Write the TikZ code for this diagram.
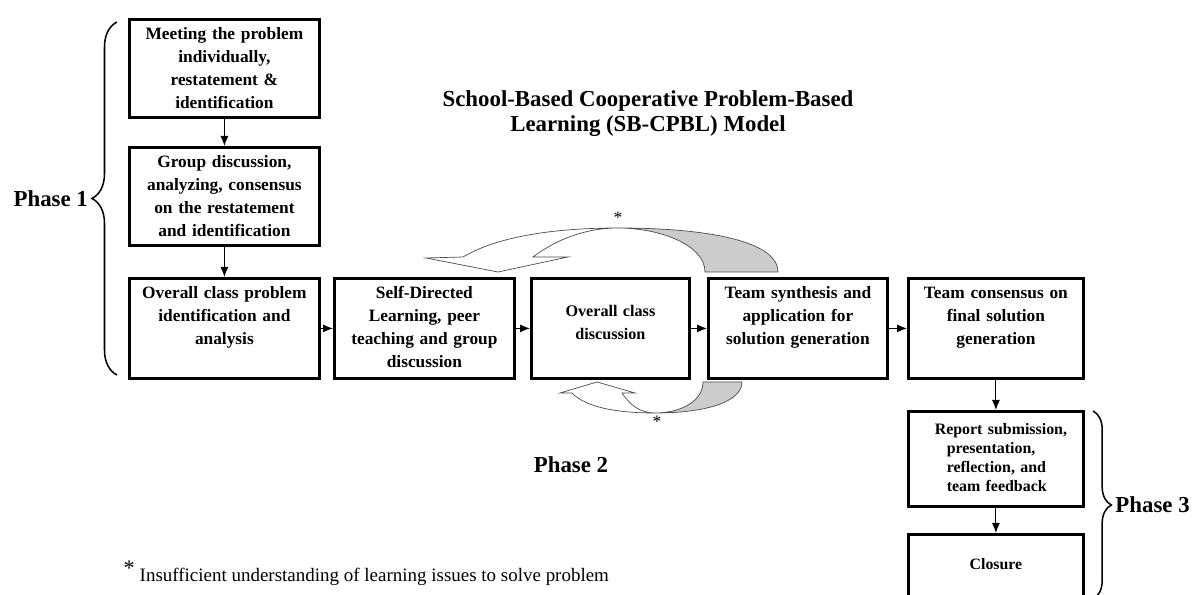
\documentclass[tikz,border=0pt]{standalone}
\usepackage{fontspec}
\setmainfont{Liberation Serif}
\usetikzlibrary{arrows.meta,positioning,decorations.pathreplacing}

\begin{document}
\begin{tikzpicture}[
    stage/.style={rectangle, draw, line width=2.4pt, anchor=north west, inner xsep=0.1cm, inner ysep=0pt, align=center, text height=0.6cm, font=\fontsize{14.8}{19.6}\selectfont\bfseries},
    smallstage/.style={stage, font=\fontsize{13.8}{19.6}\selectfont\bfseries},
    flow/.style={-{Latex[length=0.3cm,width=0.24cm]}, line width=0.85pt},
    ribbon/.style={draw=black!70, line width=0.6pt},
    phase/.style={font=\fontsize{19.5}{22}\selectfont\bfseries},
    pbrace/.style={decorate, line width=1.3pt},
    star/.style={font=\fontsize{15}{15}\selectfont, inner sep=0pt}
]

% Page frame
\useasboundingbox (0,0) rectangle (35.91,17.85);

% Title
\node[align=center, font=\fontsize{19.5}{21.5}\selectfont\bfseries] (title) at (19.44,14.45) {School-Based Cooperative Problem-Based\\Learning (SB-CPBL) Model};

% Phase 1
\node[stage, text width=5.5cm, text depth=2.34cm] (meet) at (3.84,17.31) {Meeting the problem\\individually,\\restatement \&\\identification};
\node[stage, text width=5.5cm, text depth=2.34cm] (group) at (3.84,13.47) {Group discussion,\\analyzing, consensus\\on the restatement\\and identification};
\node[stage, text width=5.5cm, text depth=2.40cm] (overall) at (3.84,9.54) {Overall class problem\\identification and\\analysis};
\draw[pbrace, decoration={brace, amplitude=0.75cm}] (3.51,6.60) -- (3.51,17.19);
\node[phase, anchor=east] (phaseone) at (2.76,11.9) {Phase 1};

% Phase 2
\node[stage, text width=5.2cm, text depth=2.40cm] (selfdir) at (9.99,9.54) {Self-Directed\\Learning, peer\\teaching and group\\discussion};
\node[smallstage, text width=4.54cm, text height=1.14cm, text depth=1.86cm] (classdisc) at (15.90,9.54) {Overall class\\discussion};
\node[stage, text width=5.17cm, text depth=2.40cm] (synth) at (21.21,9.54) {Team synthesis and\\application for\\solution generation};
\node[stage, text width=5.05cm, text depth=2.40cm] (consensus) at (27.21,9.54) {Team consensus on\\final solution\\generation};
\node[phase] (phasetwo) at (17.13,3.90) {Phase 2};

% Feedback loops
\filldraw[ribbon, fill=white] (12.78,10.11) -- (13.89,10.14) .. controls (15.0,10.8) and (16.8,11.01) .. (18.54,11.01) .. controls (17.7,11.01) and (16.8,10.75) .. (15.99,10.14) -- (17.04,10.14) -- (14.94,9.69) -- cycle;
\filldraw[ribbon, fill=gray!40] (18.54,11.01) .. controls (21.3,11.01) and (23.34,10.6) .. (23.34,9.69) -- (21.15,9.69) .. controls (21.15,10.5) and (19.8,11.01) .. (18.54,11.01) -- cycle;
\node[star] (startop) at (18.54,11.31) {*};

\filldraw[ribbon, fill=white] (16.80,6.06) -- (17.16,6.06) .. controls (17.6,5.6) and (18.6,5.46) .. (19.65,5.46) .. controls (19.2,5.46) and (18.9,5.7) .. (18.66,6.06) -- (19.05,6.06) -- (17.91,6.39) -- cycle;
\filldraw[ribbon, fill=gray!40] (19.65,5.46) .. controls (21.2,5.46) and (22.26,5.8) .. (22.26,6.39) -- (21.09,6.39) .. controls (21.09,5.8) and (20.4,5.46) .. (19.65,5.46) -- cycle;
\node[star] (starbottom) at (19.71,5.19) {*};

% Phase 3
\node[stage, text width=5.05cm, text height=0.69cm, text depth=2.16cm, align=left, font=\fontsize{13.6}{16.2}\selectfont\bfseries] (report) at (27.21,5.55) {\hspace*{0.69cm}Report submission,\\\hspace*{1.05cm}presentation,\\\hspace*{1.05cm}reflection, and\\\hspace*{1.05cm}team feedback};
\node[stage, text width=5.05cm, text height=1.05cm, text depth=1.2cm, font=\fontsize{13.5}{16}\selectfont\bfseries] (closure) at (27.21,1.86) {Closure};
\draw[pbrace, decoration={brace, amplitude=0.55cm}] (32.79,5.52) -- (32.79,-0.12);
\node[phase, anchor=west] (phasethree) at (33.34,2.70) {Phase 3};

% Flow arrows
\draw[flow] (meet) -- (group);
\draw[flow] (group) -- (overall);
\draw[flow] (overall) -- (selfdir);
\draw[flow] (selfdir) -- (classdisc);
\draw[flow] (classdisc) -- (synth);
\draw[flow] (synth) -- (consensus);
\draw[flow] (consensus) -- (report);
\draw[flow] (report) -- (closure);

% Footnote
\node[anchor=base west, inner sep=0pt, font=\fontsize{16.2}{19}\selectfont] (note) at (3.70,0.39) {\raisebox{0.2cm}{\fontsize{19}{19}\selectfont *}\hspace{0.15cm}Insufficient understanding of learning issues to solve problem};

\end{tikzpicture}
\end{document}
